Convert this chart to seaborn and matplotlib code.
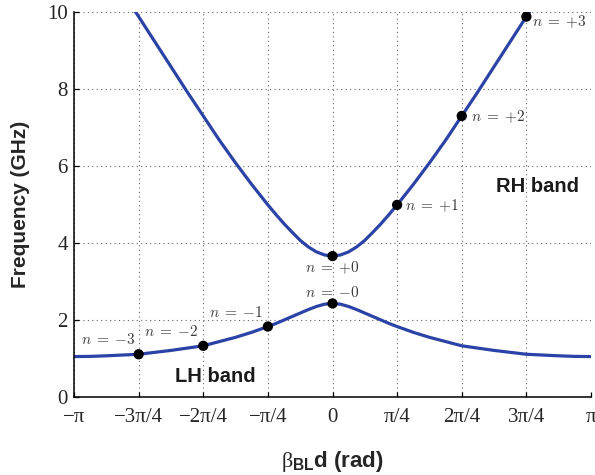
import numpy as np
import pandas as pd
import matplotlib
matplotlib.use("Agg")
import matplotlib.pyplot as plt
import seaborn as sns

# ---- data (beta*d in units of pi/4, frequency in GHz) ----
upper_q = [-3.25, -3.0, -2.75, -2.5, -2.25, -2.0, -1.75, -1.5, -1.25, -1.0, -0.875, -0.75,
           -0.625, -0.5, -0.375, -0.25, -0.125, 0.0, 0.125, 0.25, 0.375, 0.5, 0.625, 0.75,
           0.875, 1.0, 1.25, 1.5, 1.75, 2.0, 2.25, 2.5, 2.75, 3.0, 3.25]
upper_f = [10.52, 9.88, 9.23, 8.58, 7.93, 7.30, 6.67, 6.08, 5.52, 4.99, 4.74, 4.50,
           4.28, 4.07, 3.90, 3.77, 3.69, 3.66, 3.69, 3.77, 3.90, 4.07, 4.28, 4.50,
           4.74, 4.99, 5.52, 6.08, 6.67, 7.30, 7.93, 8.58, 9.23, 9.88, 10.52]

lower_q = [-4.0, -3.75, -3.5, -3.25, -3.0, -2.75, -2.5, -2.25, -2.0, -1.75, -1.5, -1.25,
           -1.0, -0.875, -0.75, -0.625, -0.5, -0.375, -0.25, -0.125, 0.0, 0.125, 0.25,
           0.375, 0.5, 0.625, 0.75, 0.875, 1.0, 1.25, 1.5, 1.75, 2.0, 2.25, 2.5, 2.75,
           3.0, 3.25, 3.5, 3.75, 4.0]
lower_f = [1.05, 1.055, 1.07, 1.09, 1.11, 1.16, 1.21, 1.27, 1.33, 1.44, 1.55, 1.68,
           1.83, 1.91, 2.00, 2.09, 2.18, 2.27, 2.35, 2.41, 2.43, 2.41, 2.35,
           2.27, 2.18, 2.09, 2.00, 1.91, 1.83, 1.68, 1.55, 1.44, 1.33, 1.27, 1.21, 1.16,
           1.11, 1.09, 1.07, 1.055, 1.05]

point_q = [-3, -2, -1, 0, 0, 1, 2, 3]
point_f = [1.11, 1.33, 1.83, 2.43, 3.66, 4.99, 7.30, 9.88]
point_labels = [r"$n\;=\;{-3}$", r"$n\;=\;{-2}$", r"$n\;=\;{-1}$", r"$n\;=\;{-0}$",
                r"$n\;=\;{+0}$", r"$n\;=\;{+1}$", r"$n\;=\;{+2}$", r"$n\;=\;{+3}$"]

x_tick_q = [-4, -3, -2, -1, 0, 1, 2, 3, 4]
x_tick_labels = ["\u2212\u03c0", "\u22123\u03c0/4", "\u22122\u03c0/4", "\u2212\u03c0/4", "0",
                 "\u03c0/4", "2\u03c0/4", "3\u03c0/4", "\u03c0"]
y_ticks = [0, 2, 4, 6, 8, 10]

# ---- styling ----
sns.set_style("ticks")
plt.rcParams["mathtext.fontset"] = "custom"
plt.rcParams["mathtext.rm"] = "Liberation Serif"
plt.rcParams["mathtext.bf"] = "Liberation Sans:bold"
plt.rcParams["mathtext.it"] = "Liberation Serif:italic"

q2rad = np.pi / 4
up = pd.DataFrame({"beta": np.array(upper_q) * q2rad, "f": upper_f})
lo = pd.DataFrame({"beta": np.array(lower_q) * q2rad, "f": lower_f})
pts = pd.DataFrame({"beta": np.array(point_q) * q2rad, "f": point_f})

fig = plt.figure(figsize=(5.95, 4.75), dpi=100)
ax = fig.add_axes([74 / 595, 1 - 397 / 475, 517 / 595, 385 / 475])

line_color = "#2b43a6"
sns.lineplot(data=up, x="beta", y="f", ax=ax, color=line_color, linewidth=2.3, sort=False)
sns.lineplot(data=lo, x="beta", y="f", ax=ax, color=line_color, linewidth=2.3, sort=False)
sns.scatterplot(data=pts, x="beta", y="f", ax=ax, color="black", s=55, edgecolor="none",
                zorder=5)

ax.set_xlim(-np.pi, np.pi)
ax.set_ylim(0, 10)
ax.set_xticks(np.array(x_tick_q) * q2rad)
ax.set_xticklabels(x_tick_labels, fontfamily="Liberation Serif", fontsize=15)
ax.set_yticks(y_ticks)
ax.set_yticklabels([str(v) for v in y_ticks], fontfamily="Liberation Serif", fontsize=15)
ax.tick_params(axis="both", direction="in", length=3.5, width=0.9, color="black")
ax.tick_params(axis="x", pad=8)
ax.tick_params(axis="y", pad=4.5)

ax.grid(True, linestyle=(0, (1, 3)), color="#666666", linewidth=0.8)
ax.set_axisbelow(True)
for s in ["top", "right"]:
    ax.spines[s].set_visible(False)
for s in ["left", "bottom"]:
    ax.spines[s].set_color("black")
    ax.spines[s].set_linewidth(1.1)

ax.set_ylabel("Frequency (GHz)", fontfamily="Liberation Sans", fontweight="bold",
              fontsize=15, labelpad=12)
ax.set_xlabel(r"$\mathrm{\beta}_{\mathbf{BL}}$d (rad)", fontfamily="Liberation Sans",
              fontweight="bold", fontsize=16, labelpad=16, math_fontfamily="custom")

offsets = [(-3, 15, "right"), (-5, 14, "right"), (-5, 14, "right"), (0, 11, "center"),
           (0, -12, "center"), (8, -1, "left"), (9, -1, "left"), (6, -5, "left")]
for qq, ff, lab, (dx, dy, ha) in zip(point_q, point_f, point_labels, offsets):
    ax.annotate(lab, (qq * q2rad, ff), xytext=(dx, dy), textcoords="offset pixels",
                ha=ha, va="center", fontsize=11, color="#3a3a3a", math_fontfamily="cm")

ax.text(3.17 * q2rad, 5.46, "RH band", fontfamily="Liberation Sans", fontweight="bold",
        fontsize=14.5, ha="center", va="center", color="#1a1a1a")
ax.text(-1.82 * q2rad, 0.545, "LH band", fontfamily="Liberation Sans", fontweight="bold",
        fontsize=14.5, ha="center", va="center", color="#1a1a1a")

fig.savefig("out.png", dpi=100)
